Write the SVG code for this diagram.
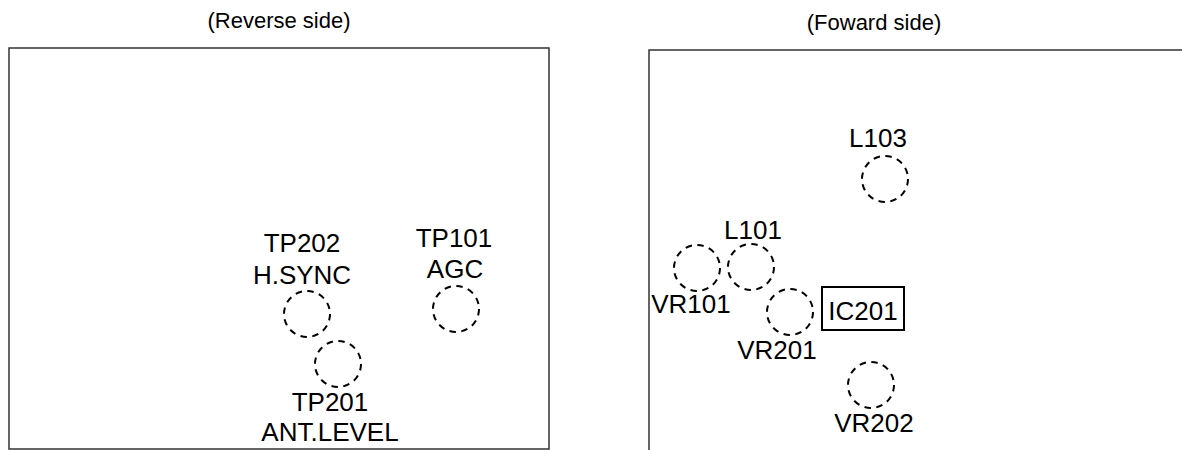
<svg xmlns="http://www.w3.org/2000/svg" width="1182" height="450" viewBox="0 0 1182 450">
<style>
text{font-family:"Liberation Sans",Arial,sans-serif;fill:#000;text-anchor:middle}
.lbl{font-size:26px}
.ttl{font-size:22px}
.board{fill:none;stroke:#333;stroke-width:1.5}
.pt{fill:none;stroke:#000;stroke-width:2;stroke-dasharray:6.5 5.5}
.ic{fill:none;stroke:#000;stroke-width:2}
</style>
<rect width="1182" height="450" fill="#fff"/>
<g id="reverse">
<text class="ttl" x="279" y="28">(Reverse side)</text>
<rect class="board" x="9" y="48" width="540" height="401"/>
</g>
<g id="forward">
<text class="ttl" x="874" y="30">(Foward side)</text>
<path class="board" d="M649 451 V50 H1184"/>
</g>
<g id="TP202"><circle class="pt" cx="307" cy="314" r="23"/><text class="lbl" x="302" y="252">TP202</text><text class="lbl" x="302" y="284">H.SYNC</text></g>
<g id="TP101"><circle class="pt" cx="456" cy="309" r="23"/><text class="lbl" x="454" y="247">TP101</text><text class="lbl" x="455" y="278">AGC</text></g>
<g id="TP201"><circle class="pt" cx="338" cy="364" r="23"/><text class="lbl" x="330" y="411">TP201</text><text class="lbl" x="330" y="441">ANT.LEVEL</text></g>
<g id="L103"><circle class="pt" cx="885" cy="179" r="23"/><text class="lbl" x="878" y="147">L103</text></g>
<g id="L101"><circle class="pt" cx="751" cy="267" r="23"/><text class="lbl" x="753" y="239">L101</text></g>
<g id="VR101"><circle class="pt" cx="697" cy="268" r="23"/><text class="lbl" x="691" y="313">VR101</text></g>
<g id="VR201"><circle class="pt" cx="790" cy="312" r="23"/><text class="lbl" x="777" y="359">VR201</text></g>
<g id="IC201"><rect class="ic" x="822" y="287" width="82" height="43"/><text class="lbl" x="863" y="320">IC201</text></g>
<g id="VR202"><circle class="pt" cx="871" cy="385" r="23"/><text class="lbl" x="874" y="432">VR202</text></g>
<g id="connectors"/>
</svg>
